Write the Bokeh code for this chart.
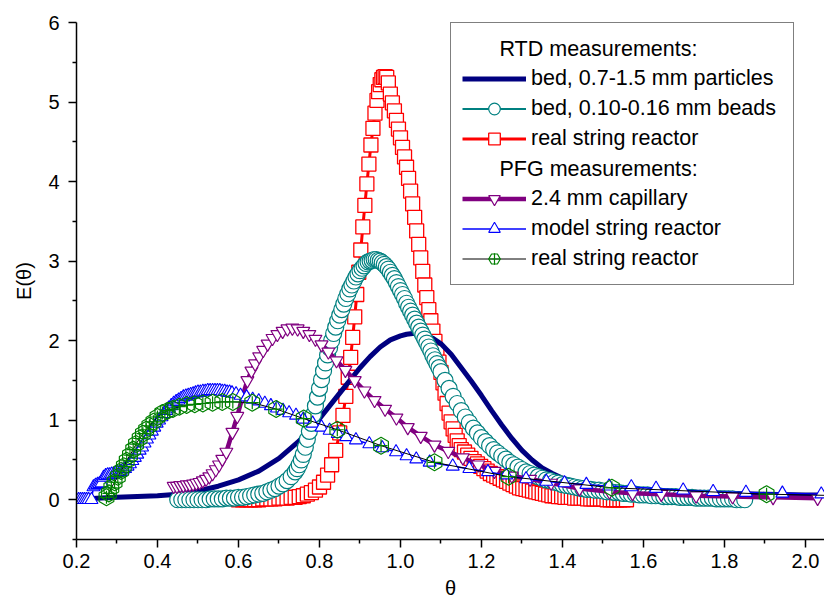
import math
from bokeh.plotting import figure
from bokeh.models import Range1d, FixedTicker, Legend, LegendItem, Label
from bokeh.embed import file_html
from bokeh.resources import INLINE

# ---------------- data ----------------
# RTD: bed, 0.7-1.5 mm particles (navy line)
theta_bed_coarse = [0.20, 0.25, 0.30, 0.35, 0.40, 0.45, 0.50, 0.55, 0.60, 0.65, 0.70, 0.75,
                    0.80, 0.85, 0.90, 0.925, 0.95, 0.975, 1.00, 1.015, 1.03, 1.045, 1.06,
                    1.08, 1.10, 1.125, 1.15, 1.175, 1.20, 1.225, 1.25, 1.275, 1.30, 1.325,
                    1.35, 1.375, 1.40, 1.45, 1.50, 1.60, 1.70, 1.80, 1.90, 2.00, 2.10]
E_bed_coarse = [0.00, 0.02, 0.03, 0.04, 0.05, 0.07, 0.11, 0.17, 0.25, 0.36, 0.52, 0.74,
                1.02, 1.34, 1.66, 1.80, 1.92, 2.01, 2.06, 2.08, 2.09, 2.09, 2.07,
                2.03, 1.96, 1.83, 1.66, 1.49, 1.31, 1.12, 0.94, 0.77, 0.62, 0.50,
                0.40, 0.33, 0.27, 0.20, 0.16, 0.12, 0.10, 0.08, 0.07, 0.06, 0.06]

# RTD: bed, 0.10-0.16 mm beads (teal circles)
theta_beads = [0.45, 0.46, 0.47, 0.48, 0.49, 0.50, 0.51, 0.52, 0.53, 0.54, 0.55, 0.56, 0.57,
               0.58, 0.59, 0.60, 0.61, 0.62, 0.63, 0.64, 0.65, 0.66, 0.67, 0.68, 0.69, 0.70,
               0.71, 0.72, 0.73, 0.74, 0.745, 0.75, 0.755, 0.76, 0.765, 0.77, 0.775, 0.78,
               0.785, 0.79, 0.795, 0.80, 0.805, 0.81, 0.815, 0.82, 0.825, 0.83, 0.835, 0.84,
               0.845, 0.85, 0.855, 0.86, 0.865, 0.87, 0.875, 0.88, 0.885, 0.89, 0.895, 0.90,
               0.905, 0.91, 0.915, 0.92, 0.925, 0.93, 0.935, 0.94, 0.945, 0.95, 0.955, 0.96,
               0.965, 0.97, 0.975, 0.98, 0.985, 0.99, 0.995, 1.00, 1.005, 1.01, 1.015, 1.02,
               1.025, 1.03, 1.035, 1.04, 1.045, 1.05, 1.055, 1.06, 1.065, 1.07, 1.075, 1.08,
               1.085, 1.09, 1.095, 1.10, 1.11, 1.12, 1.13, 1.14, 1.15, 1.16, 1.17, 1.18, 1.19,
               1.20, 1.21, 1.22, 1.23, 1.24, 1.25, 1.26, 1.27, 1.28, 1.29, 1.30, 1.31, 1.32,
               1.33, 1.34, 1.35, 1.36, 1.37, 1.38, 1.39, 1.40, 1.41, 1.42, 1.43, 1.44, 1.45,
               1.46, 1.47, 1.48, 1.49, 1.50, 1.51, 1.52, 1.53, 1.54, 1.55, 1.56, 1.57, 1.58,
               1.59, 1.60, 1.61, 1.62, 1.63, 1.64, 1.65, 1.66, 1.67, 1.68, 1.69, 1.70, 1.71,
               1.72, 1.73, 1.74, 1.75, 1.76, 1.77, 1.78, 1.79, 1.80, 1.81, 1.82, 1.83, 1.84, 1.85]
E_beads = [0.00, 0.00, 0.00, 0.00, 0.00, 0.00, 0.00, 0.00, 0.01, 0.01, 0.01, 0.01, 0.02,
           0.02, 0.02, 0.03, 0.03, 0.04, 0.05, 0.06, 0.07, 0.08, 0.10, 0.12, 0.14, 0.17,
           0.20, 0.24, 0.29, 0.35, 0.39, 0.44, 0.50, 0.57, 0.66, 0.76, 0.86, 0.96,
           1.07, 1.18, 1.29, 1.40, 1.51, 1.62, 1.72, 1.82, 1.91, 2.00, 2.09, 2.17,
           2.25, 2.32, 2.39, 2.46, 2.53, 2.59, 2.65, 2.70, 2.75, 2.80, 2.84, 2.88,
           2.91, 2.94, 2.97, 2.99, 3.00, 3.01, 3.02, 3.02, 3.01, 3.00, 2.98, 2.96,
           2.93, 2.90, 2.86, 2.82, 2.78, 2.73, 2.68, 2.63, 2.58, 2.53, 2.47, 2.42,
           2.37, 2.32, 2.27, 2.22, 2.17, 2.12, 2.07, 2.02, 1.97, 1.92, 1.87, 1.81,
           1.76, 1.71, 1.66, 1.61, 1.50, 1.40, 1.30, 1.21, 1.12, 1.04, 0.97, 0.90, 0.84,
           0.78, 0.73, 0.68, 0.63, 0.59, 0.55, 0.51, 0.47, 0.44, 0.41, 0.38, 0.35, 0.33,
           0.31, 0.29, 0.27, 0.25, 0.24, 0.22, 0.21, 0.19, 0.18, 0.17, 0.16, 0.15, 0.14,
           0.13, 0.13, 0.12, 0.12, 0.11, 0.10, 0.10, 0.09, 0.09, 0.08, 0.08, 0.07, 0.07,
           0.06, 0.06, 0.06, 0.05, 0.05, 0.05, 0.04, 0.04, 0.04, 0.04, 0.03, 0.03, 0.03,
           0.03, 0.02, 0.02, 0.02, 0.02, 0.02, 0.01, 0.01, 0.01, 0.01, 0.01, 0.00, 0.00, 0.00]

# RTD: real string reactor (red squares)
theta_rtd_string = [0.60, 0.61, 0.62, 0.63, 0.64, 0.65, 0.66, 0.67, 0.68, 0.69, 0.70, 0.71,
                    0.72, 0.73, 0.74, 0.75, 0.76, 0.77, 0.78, 0.79, 0.80, 0.81, 0.82, 0.83,
                    0.84, 0.85, 0.858, 0.865, 0.871, 0.877, 0.882, 0.887, 0.892, 0.897,
                    0.902, 0.907, 0.912, 0.917, 0.922, 0.927, 0.932, 0.937, 0.942, 0.946,
                    0.950, 0.954, 0.958, 0.962, 0.966, 0.970, 0.975, 0.980, 0.985, 0.990,
                    0.995, 1.000, 1.005, 1.010, 1.015, 1.020, 1.025, 1.030, 1.035, 1.040,
                    1.045, 1.050, 1.055, 1.060, 1.065, 1.070, 1.075, 1.080, 1.085, 1.090,
                    1.095, 1.100, 1.105, 1.110, 1.115, 1.120, 1.125, 1.130, 1.135, 1.140,
                    1.145, 1.150, 1.158, 1.166, 1.174, 1.182, 1.190, 1.198, 1.206, 1.214,
                    1.222, 1.230, 1.238, 1.246, 1.254, 1.262, 1.270, 1.278, 1.286, 1.294,
                    1.302, 1.310, 1.318, 1.326, 1.334, 1.342, 1.350, 1.358, 1.366, 1.374,
                    1.382, 1.390, 1.398, 1.406, 1.414, 1.422, 1.430, 1.438, 1.446, 1.454,
                    1.462, 1.470, 1.478, 1.486, 1.494, 1.502, 1.510, 1.518, 1.526, 1.534,
                    1.542, 1.550, 1.558]
E_rtd_string = [0.00, 0.00, 0.00, 0.00, 0.00, 0.00, 0.01, 0.01, 0.01, 0.01, 0.02, 0.02,
                0.02, 0.03, 0.03, 0.04, 0.05, 0.07, 0.09, 0.12, 0.16, 0.22, 0.31, 0.44,
                0.62, 0.84, 1.06, 1.30, 1.54, 1.79, 2.04, 2.30, 2.58, 2.86,
                3.14, 3.43, 3.70, 3.97, 4.22, 4.46, 4.67, 4.86, 5.02, 5.13,
                5.22, 5.28, 5.31, 5.32, 5.31, 5.24, 5.10, 4.99, 4.89, 4.77,
                4.66, 4.55, 4.43, 4.31, 4.18, 4.04, 3.88, 3.72, 3.55, 3.38,
                3.21, 3.04, 2.87, 2.70, 2.54, 2.39, 2.25, 2.12, 1.99, 1.86,
                1.73, 1.60, 1.47, 1.34, 1.21, 1.09, 0.98, 0.89, 0.81, 0.74,
                0.68, 0.63, 0.60, 0.56, 0.52, 0.48, 0.45, 0.42, 0.39, 0.36,
                0.33, 0.31, 0.29, 0.27, 0.25, 0.23, 0.21, 0.19, 0.17, 0.15,
                0.14, 0.13, 0.12, 0.11, 0.10, 0.09, 0.08, 0.07, 0.06, 0.05,
                0.05, 0.04, 0.04, 0.03, 0.03, 0.03, 0.02, 0.02, 0.02, 0.02,
                0.01, 0.01, 0.01, 0.01, 0.01, 0.01, 0.00, 0.00, 0.00, 0.00,
                0.00, 0.00, 0.00]

# PFG: 2.4 mm capillary (purple inverted triangles)
theta_capillary = [0.440, 0.448, 0.456, 0.464, 0.472, 0.480, 0.488, 0.496, 0.504, 0.512,
                   0.520, 0.528, 0.536, 0.544, 0.552, 0.560, 0.570, 0.585, 0.597, 0.610,
                   0.622, 0.632, 0.641, 0.651, 0.661, 0.672, 0.684, 0.696, 0.709, 0.721,
                   0.733, 0.746, 0.760, 0.775, 0.790, 0.805, 0.822, 0.842, 0.864, 0.887,
                   0.911, 0.936, 0.962, 0.990, 1.018, 1.050, 1.084, 1.118, 1.154, 1.192,
                   1.232, 1.275, 1.320, 1.372, 1.442, 1.516, 1.573, 1.644, 1.730, 1.820,
                   1.920, 2.030]
E_capillary = [0.17, 0.17, 0.18, 0.18, 0.19, 0.19, 0.20, 0.21, 0.22, 0.24,
               0.26, 0.29, 0.33, 0.38, 0.44, 0.51, 0.60, 0.85, 1.05, 1.30,
               1.50, 1.62, 1.71, 1.80, 1.88, 1.96, 2.03, 2.08, 2.12, 2.15,
               2.16, 2.15, 2.12, 2.08, 2.02, 1.95, 1.86, 1.75, 1.63, 1.50,
               1.37, 1.25, 1.14, 1.03, 0.91, 0.80, 0.69, 0.61, 0.53, 0.44,
               0.36, 0.30, 0.26, 0.21, 0.14, 0.10, 0.08, 0.07, 0.05, 0.04,
               0.03, 0.02]

# PFG: model string reactor (blue triangles)
theta_model = [0.205, 0.210, 0.215, 0.220, 0.225, 0.230, 0.237, 0.242, 0.247, 0.252, 0.257,
               0.262, 0.267, 0.272, 0.277, 0.282, 0.287, 0.292, 0.297, 0.302, 0.308, 0.314,
               0.320, 0.326, 0.332, 0.338, 0.344, 0.350, 0.356, 0.362, 0.368, 0.374, 0.380,
               0.386, 0.392, 0.398, 0.404, 0.410, 0.416, 0.422, 0.428, 0.434, 0.440, 0.446,
               0.452, 0.458, 0.464, 0.470, 0.476, 0.482, 0.488, 0.494, 0.500, 0.506, 0.512,
               0.518, 0.524, 0.530, 0.536, 0.542, 0.548, 0.554, 0.560, 0.566, 0.572, 0.578,
               0.584, 0.594, 0.605, 0.620, 0.635, 0.650, 0.665, 0.680, 0.695, 0.710, 0.725,
               0.742, 0.760, 0.783, 0.805, 0.825, 0.845, 0.866, 0.890, 0.923, 0.955, 0.989,
               1.015, 1.039, 1.072, 1.129, 1.170, 1.216, 1.261, 1.310, 1.360, 1.405, 1.459,
               1.515, 1.570, 1.631, 1.698, 1.772, 1.853, 1.943, 2.039]
E_model = [0.00, 0.00, 0.00, 0.00, 0.00, 0.00, 0.00, 0.16, 0.18, 0.19, 0.20,
           0.21, 0.28, 0.30, 0.31, 0.31, 0.32, 0.32, 0.33, 0.34, 0.35, 0.37,
           0.39, 0.42, 0.45, 0.49, 0.53, 0.57, 0.62, 0.66, 0.71, 0.76, 0.81,
           0.86, 0.91, 0.96, 1.00, 1.04, 1.08, 1.12, 1.15, 1.18, 1.21, 1.23,
           1.25, 1.27, 1.29, 1.30, 1.31, 1.32, 1.33, 1.34, 1.35, 1.35, 1.36,
           1.36, 1.37, 1.37, 1.37, 1.37, 1.37, 1.37, 1.36, 1.36, 1.35, 1.35,
           1.34, 1.33, 1.31, 1.29, 1.26, 1.24, 1.21, 1.18, 1.15, 1.12, 1.09,
           1.06, 1.01, 0.96, 0.91, 0.87, 0.83, 0.79, 0.75, 0.70, 0.65, 0.60,
           0.55, 0.51, 0.47, 0.42, 0.39, 0.35, 0.31, 0.26, 0.23, 0.21, 0.19,
           0.17, 0.16, 0.14, 0.12, 0.10, 0.09, 0.08, 0.07]

# PFG: real string reactor (green hexagons)
theta_pfg_string = [0.274, 0.280, 0.286, 0.294, 0.302, 0.310, 0.317, 0.324, 0.332, 0.340,
                    0.347, 0.356, 0.364, 0.372, 0.380, 0.390, 0.400, 0.412, 0.425, 0.438,
                    0.454, 0.472, 0.492, 0.512, 0.536, 0.560, 0.586, 0.634, 0.693, 0.761,
                    0.844, 0.952, 1.084, 1.267, 1.522, 1.904, 2.100]
E_pfg_string = [0.03, 0.08, 0.15, 0.22, 0.29, 0.36, 0.42, 0.49, 0.56, 0.63,
                0.70, 0.77, 0.83, 0.88, 0.93, 0.98, 1.04, 1.09, 1.12, 1.14,
                1.17, 1.19, 1.20, 1.21, 1.22, 1.23, 1.23, 1.22, 1.14, 1.02,
                0.88, 0.68, 0.47, 0.29, 0.15, 0.07, 0.05]

legend_headers = ["RTD measurements:", "PFG measurements:"]
series_names = ["bed, 0.7-1.5 mm particles", "bed, 0.10-0.16 mm beads", "real string reactor",
                "2.4 mm capillary", "model string reactor", "real string reactor"]

x_ticks = [0.2, 0.4, 0.6, 0.8, 1.0, 1.2, 1.4, 1.6, 1.8, 2.0]
x_tick_labels = ["0.2", "0.4", "0.6", "0.8", "1.0", "1.2", "1.4", "1.6", "1.8", "2.0"]
x_minor_ticks = [0.3, 0.5, 0.7, 0.9, 1.1, 1.3, 1.5, 1.7, 1.9]
y_ticks = [0, 1, 2, 3, 4, 5, 6]
y_tick_labels = ["0", "1", "2", "3", "4", "5", "6"]
y_minor_ticks = [-0.5, 0.5, 1.5, 2.5, 3.5, 4.5, 5.5]

FONT = "Liberation Sans"
NAVY, TEAL, RED, PURPLE, BLUE, GREEN = "#000080", "#008080", "#FF0000", "#800080", "#0000FF", "#008000"

# ---------------- figure ----------------
p = figure(width=824, height=602, output_backend="svg", toolbar_location=None,
           x_range=Range1d(0.2, 2.047), y_range=Range1d(-0.5, 6.0),
           min_border_left=76, min_border_right=0, min_border_top=22, min_border_bottom=63,
           x_axis_label="θ", y_axis_label="E(θ)")
p.grid.visible = False
p.outline_line_color = None
p.background_fill_color = "white"
p.border_fill_color = "white"

# series (draw order as in the reference)
red_line = p.line(theta_rtd_string, E_rtd_string, line_color=RED, line_width=3)
red_pts = p.scatter(theta_rtd_string, E_rtd_string, marker="square", size=14,
                    line_color=RED, fill_color="white", line_width=1.3)
navy_line = p.line(theta_bed_coarse, E_bed_coarse, line_color=NAVY, line_width=5, line_join="round")
teal_line = p.line(theta_beads, E_beads, line_color=TEAL, line_width=2)
teal_pts = p.scatter(theta_beads, E_beads, marker="circle", size=16,
                     line_color=TEAL, fill_color="white", line_width=1.2)
purple_line = p.line(theta_capillary, E_capillary, line_color=PURPLE, line_width=4.5)
purple_pts = p.scatter(theta_capillary, E_capillary, marker="inverted_triangle", size=13,
                       line_color=PURPLE, fill_color="white", line_width=1.2)
blue_line = p.line(theta_model, E_model, line_color=BLUE, line_width=1.5)
blue_pts = p.scatter(theta_model, E_model, marker="triangle", size=13,
                     line_color=BLUE, fill_color="white", line_width=1.1)
green_line = p.line(theta_pfg_string, E_pfg_string, line_color="black", line_width=1)
green_hex = p.scatter(theta_pfg_string, E_pfg_string, marker="hex", size=17, angle=math.pi / 2,
                      line_color=GREEN, fill_color=None, line_width=1.2)
green_cross = p.scatter(theta_pfg_string, E_pfg_string, marker="cross", size=13,
                        line_color=GREEN, line_width=1.2)

# invisible renderers for the legend header rows
blank_a = p.line([], [], line_alpha=0)
blank_b = p.line([], [], line_alpha=0)

# ---------------- axes ----------------
p.xaxis.ticker = FixedTicker(ticks=x_ticks, minor_ticks=x_minor_ticks)
p.xaxis.major_label_overrides = dict(zip(x_ticks, x_tick_labels))
p.yaxis.ticker = FixedTicker(ticks=y_ticks, minor_ticks=y_minor_ticks)
p.yaxis.major_label_overrides = dict(zip(y_ticks, y_tick_labels))

for ax in (p.xaxis[0], p.yaxis[0]):
    ax.axis_line_color = "black"
    ax.axis_line_width = 1.5
    ax.major_tick_line_color = "black"
    ax.major_tick_line_width = 1.5
    ax.minor_tick_line_color = "black"
    ax.minor_tick_line_width = 1.5
    ax.major_tick_out = 8
    ax.major_tick_in = 0
    ax.minor_tick_out = 4
    ax.minor_tick_in = 0
    ax.major_label_text_font = FONT
    ax.major_label_text_font_size = "20px"
    ax.major_label_text_color = "black"
    ax.axis_label_text_font = FONT
    ax.axis_label_text_font_size = "20px"
    ax.axis_label_text_font_style = "normal"
    ax.axis_label_text_color = "black"

p.xaxis.major_label_standoff = 6
p.xaxis.axis_label_standoff = 6
p.yaxis.major_label_standoff = 9
p.yaxis.axis_label_standoff = 10

# ---------------- legend ----------------
items = [
    LegendItem(label=" ", renderers=[blank_a]),
    LegendItem(label=series_names[0], renderers=[navy_line]),
    LegendItem(label=series_names[1], renderers=[teal_line, teal_pts]),
    LegendItem(label=series_names[2], renderers=[red_line, red_pts]),
    LegendItem(label="  ", renderers=[blank_b]),
    LegendItem(label=series_names[3], renderers=[purple_line, purple_pts]),
    LegendItem(label=series_names[4], renderers=[blue_line, blue_pts]),
    LegendItem(label=series_names[5], renderers=[green_line, green_hex, green_cross]),
]
legend = Legend(items=items, location=(374, 254),
                label_text_font=FONT, label_text_font_size="21.5px", label_text_color="black",
                glyph_width=64, glyph_height=29, label_height=29, label_width=251,
                label_standoff=5, spacing=1, padding=11, margin=0,
                border_line_color="black", border_line_width=1.5,
                background_fill_color="white", background_fill_alpha=0.0)
p.add_layout(legend)

hdr1 = Label(x=1.2444, y=5.666, text=legend_headers[0], text_font=FONT,
             text_font_size="21.5px", text_baseline="middle", text_align="left",
             text_color="black", level="overlay")
hdr2 = Label(x=1.2444, y=4.154, text=legend_headers[1], text_font=FONT,
             text_font_size="21.5px", text_baseline="middle", text_align="left",
             text_color="black", level="overlay")
p.add_layout(hdr1)
p.add_layout(hdr2)

open("out.html", "w").write(file_html(p, INLINE))
